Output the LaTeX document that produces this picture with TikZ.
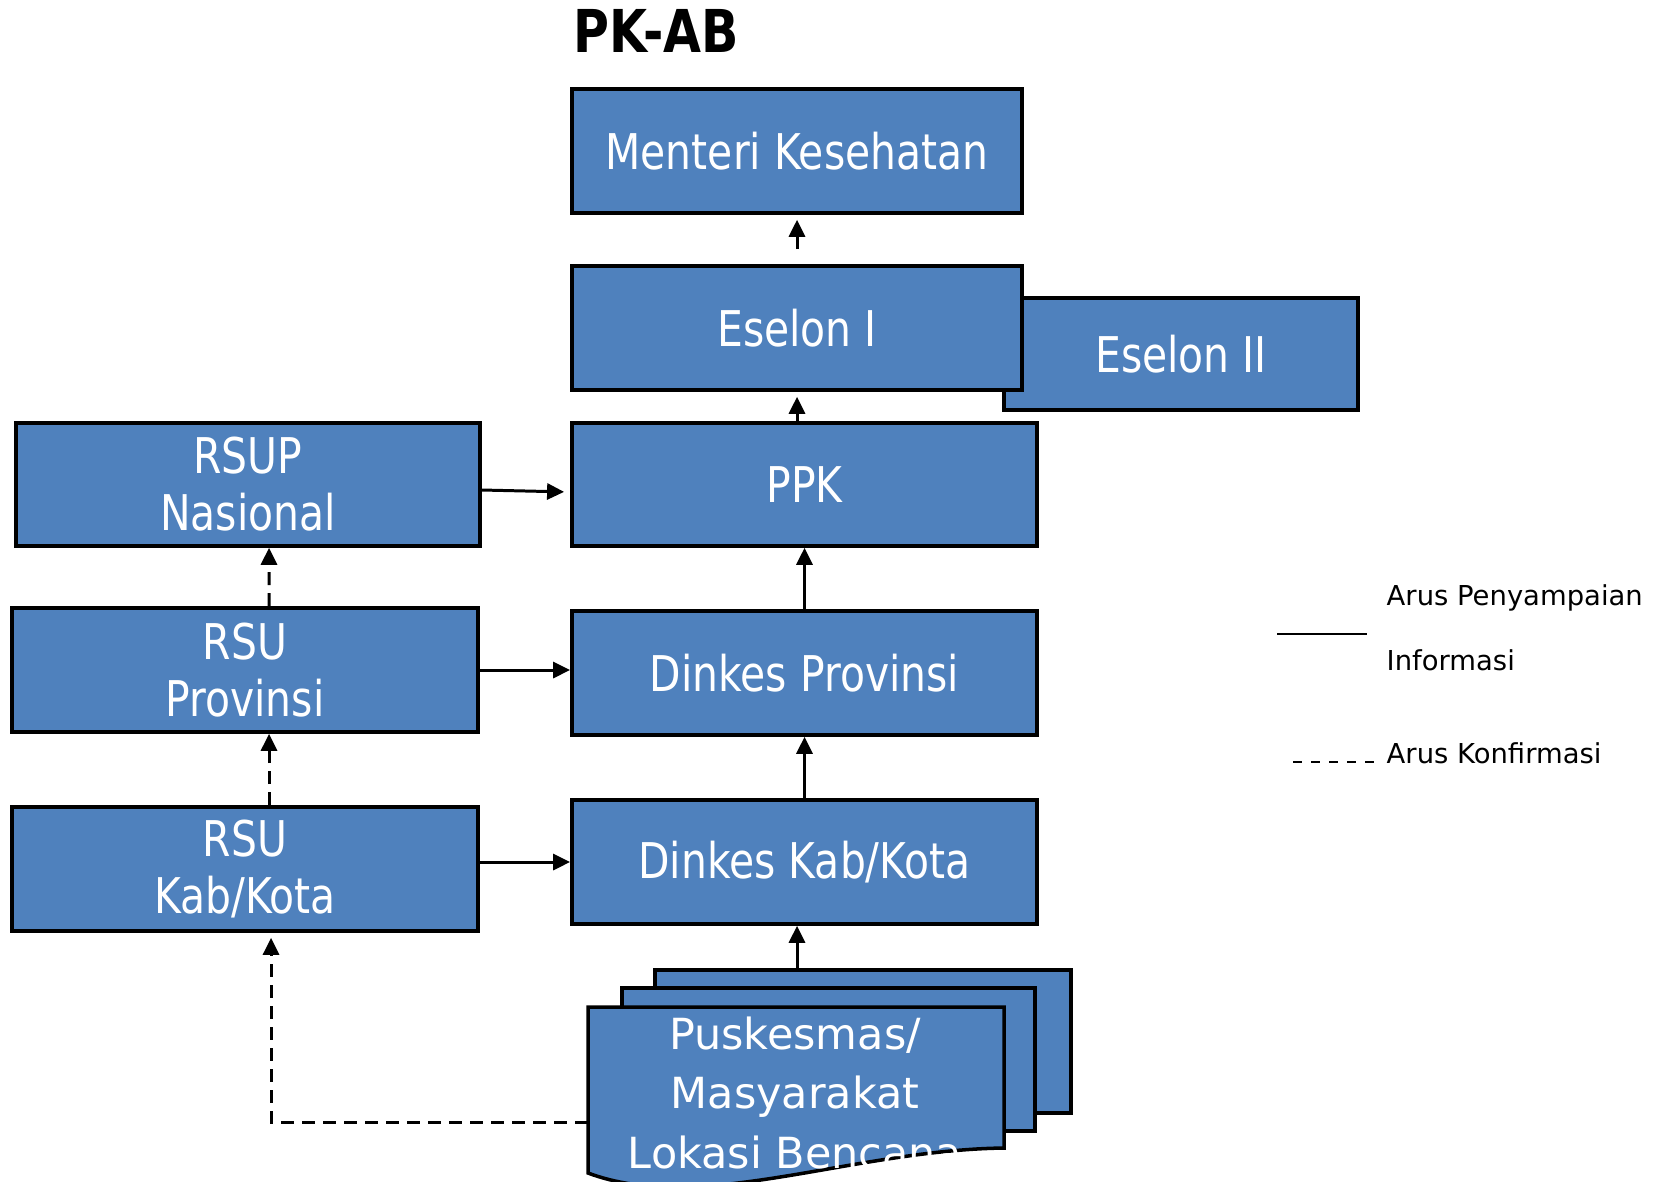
\documentclass[tikz,border=0pt]{standalone}
\usepackage{fontspec}
\setmainfont{DejaVu Sans}
\newfontfamily\boxfont[FakeStretch=0.83]{DejaVu Sans}
\usepackage{tikz}
\definecolor{boxblue}{RGB}{79,129,189}
\usetikzlibrary{arrows.meta,positioning}
\tikzset{%
  box/.style={draw, rectangle, line width=1pt, fill=boxblue, text=white, inner sep=0pt,
    align=center, minimum height=1.24cm, font=\boxfont\fontsize{14}{16.2}\selectfont},% unit box
  narrowbox/.style={box, minimum width=4.5cm},% menteri / eselon
  widebox/.style={box, minimum width=4.65cm},% ppk, dinkes, rsu
  doc/.style={draw, line width=1pt, fill=boxblue},% puskesmas pages
  info/.style={line width=0.85pt, -{Triangle[length=0.17cm, width=0.16cm]}},% arus penyampaian informasi
  konf/.style={info, dash pattern=on 0.13cm off 0.08cm},% arus konfirmasi
  legend/.style={inner sep=0pt, align=left, font=\fontsize{7.8}{18.5}\selectfont}% legend text
}
\begin{document}
\begin{tikzpicture}[x=0.01cm, y=-0.01cm]
\useasboundingbox (0,0) rectangle (1661,1181);
\node[anchor=base west, inner sep=0pt, font=\boxfont\bfseries\fontsize{16.8}{20}\selectfont] (title) at (573,52) {PK-AB};

\node[box, minimum width=3.54cm, minimum height=1.12cm] (eselon2) at (1181,354) {Eselon II};
\node[narrowbox] (menteri) at (797,151) {Menteri Kesehatan};
\node[narrowbox] (eselon1) at (797,328) {Eselon I};
\node[widebox, minimum height=1.23cm] (ppk) at (804.5,484.5) {PPK};
\node[widebox] (dinkesprov) at (804.5,673) {Dinkes Provinsi};
\node[widebox] (dinkeskab) at (804.5,862) {Dinkes Kab/Kota};
\node[widebox, minimum width=4.64cm, minimum height=1.23cm] (rsup) at (248,484.5) {RSUP\\Nasional};
\node[widebox, minimum width=4.66cm] (rsuprov) at (245,670) {RSU\\Provinsi};
\node[widebox, minimum width=4.66cm] (rsukab) at (245,869) {RSU\\Kab/Kota};

% puskesmas / masyarakat pages
\draw[doc] (655,970) rectangle (1071,1113);
\draw[doc] (622,988) rectangle (1035,1131);
\draw[doc] (588,1007) -- (1004,1007) -- (1004,1148) .. controls (850,1150) and (700,1215) .. (588,1173) -- cycle;
\node[anchor=north, inner sep=0pt, text=white, align=center, font=\fontsize{12.2}{16.9}\selectfont] (pusk) at (795,1016) {Puskesmas/\\Masyarakat\\Lokasi Bencana};
\coordinate (pusktop) at (797,970);
\coordinate (puskleft) at (588,1122);

\draw[info, shorten <=0.15cm, shorten >=0.05cm] (eselon1) -- (menteri);
\draw[info, shorten >=0.05cm] (ppk.north -| eselon1.south) -- (eselon1.south);
\draw[info] (dinkesprov) -- (ppk);
\draw[info] (dinkeskab) -- (dinkesprov);
\draw[info] (pusktop) -- (pusktop |- dinkeskab.south);
\draw[info, shorten >=0.06cm] ([yshift=-0.055cm]rsup.east) -- ([yshift=-0.075cm]ppk.west);
\draw[info] (rsuprov.east) -- (rsuprov.east -| dinkesprov.west);
\draw[info] (rsukab.east |- dinkeskab.west) -- (dinkeskab.west);

\draw[konf] ([xshift=0.24cm]rsuprov.north) -- ([xshift=0.21cm]rsup.south);
\draw[konf] ([xshift=0.24cm]rsukab.north) -- ([xshift=0.24cm]rsuprov.south);
\draw[konf, shorten >=0.05cm] (puskleft) -| ([xshift=0.26cm]rsukab.south);

% legend
\coordinate (infoa) at (1277,634);
\coordinate (infob) at (1367,634);
\draw[line width=0.8pt] (infoa) -- (infob);
\node[legend, anchor=north west] (leginfo) at (1386,584) {Arus Penyampaian\\Informasi};
\coordinate (konfa) at (1293,762);
\coordinate (konfb) at (1376,762);
\draw[line width=0.6pt, dash pattern=on 0.09cm off 0.09cm] (konfa) -- (konfb);
\node[legend, anchor=base west] (legkonf) at (1386,763) {Arus Konfirmasi};
\end{tikzpicture}
\end{document}
